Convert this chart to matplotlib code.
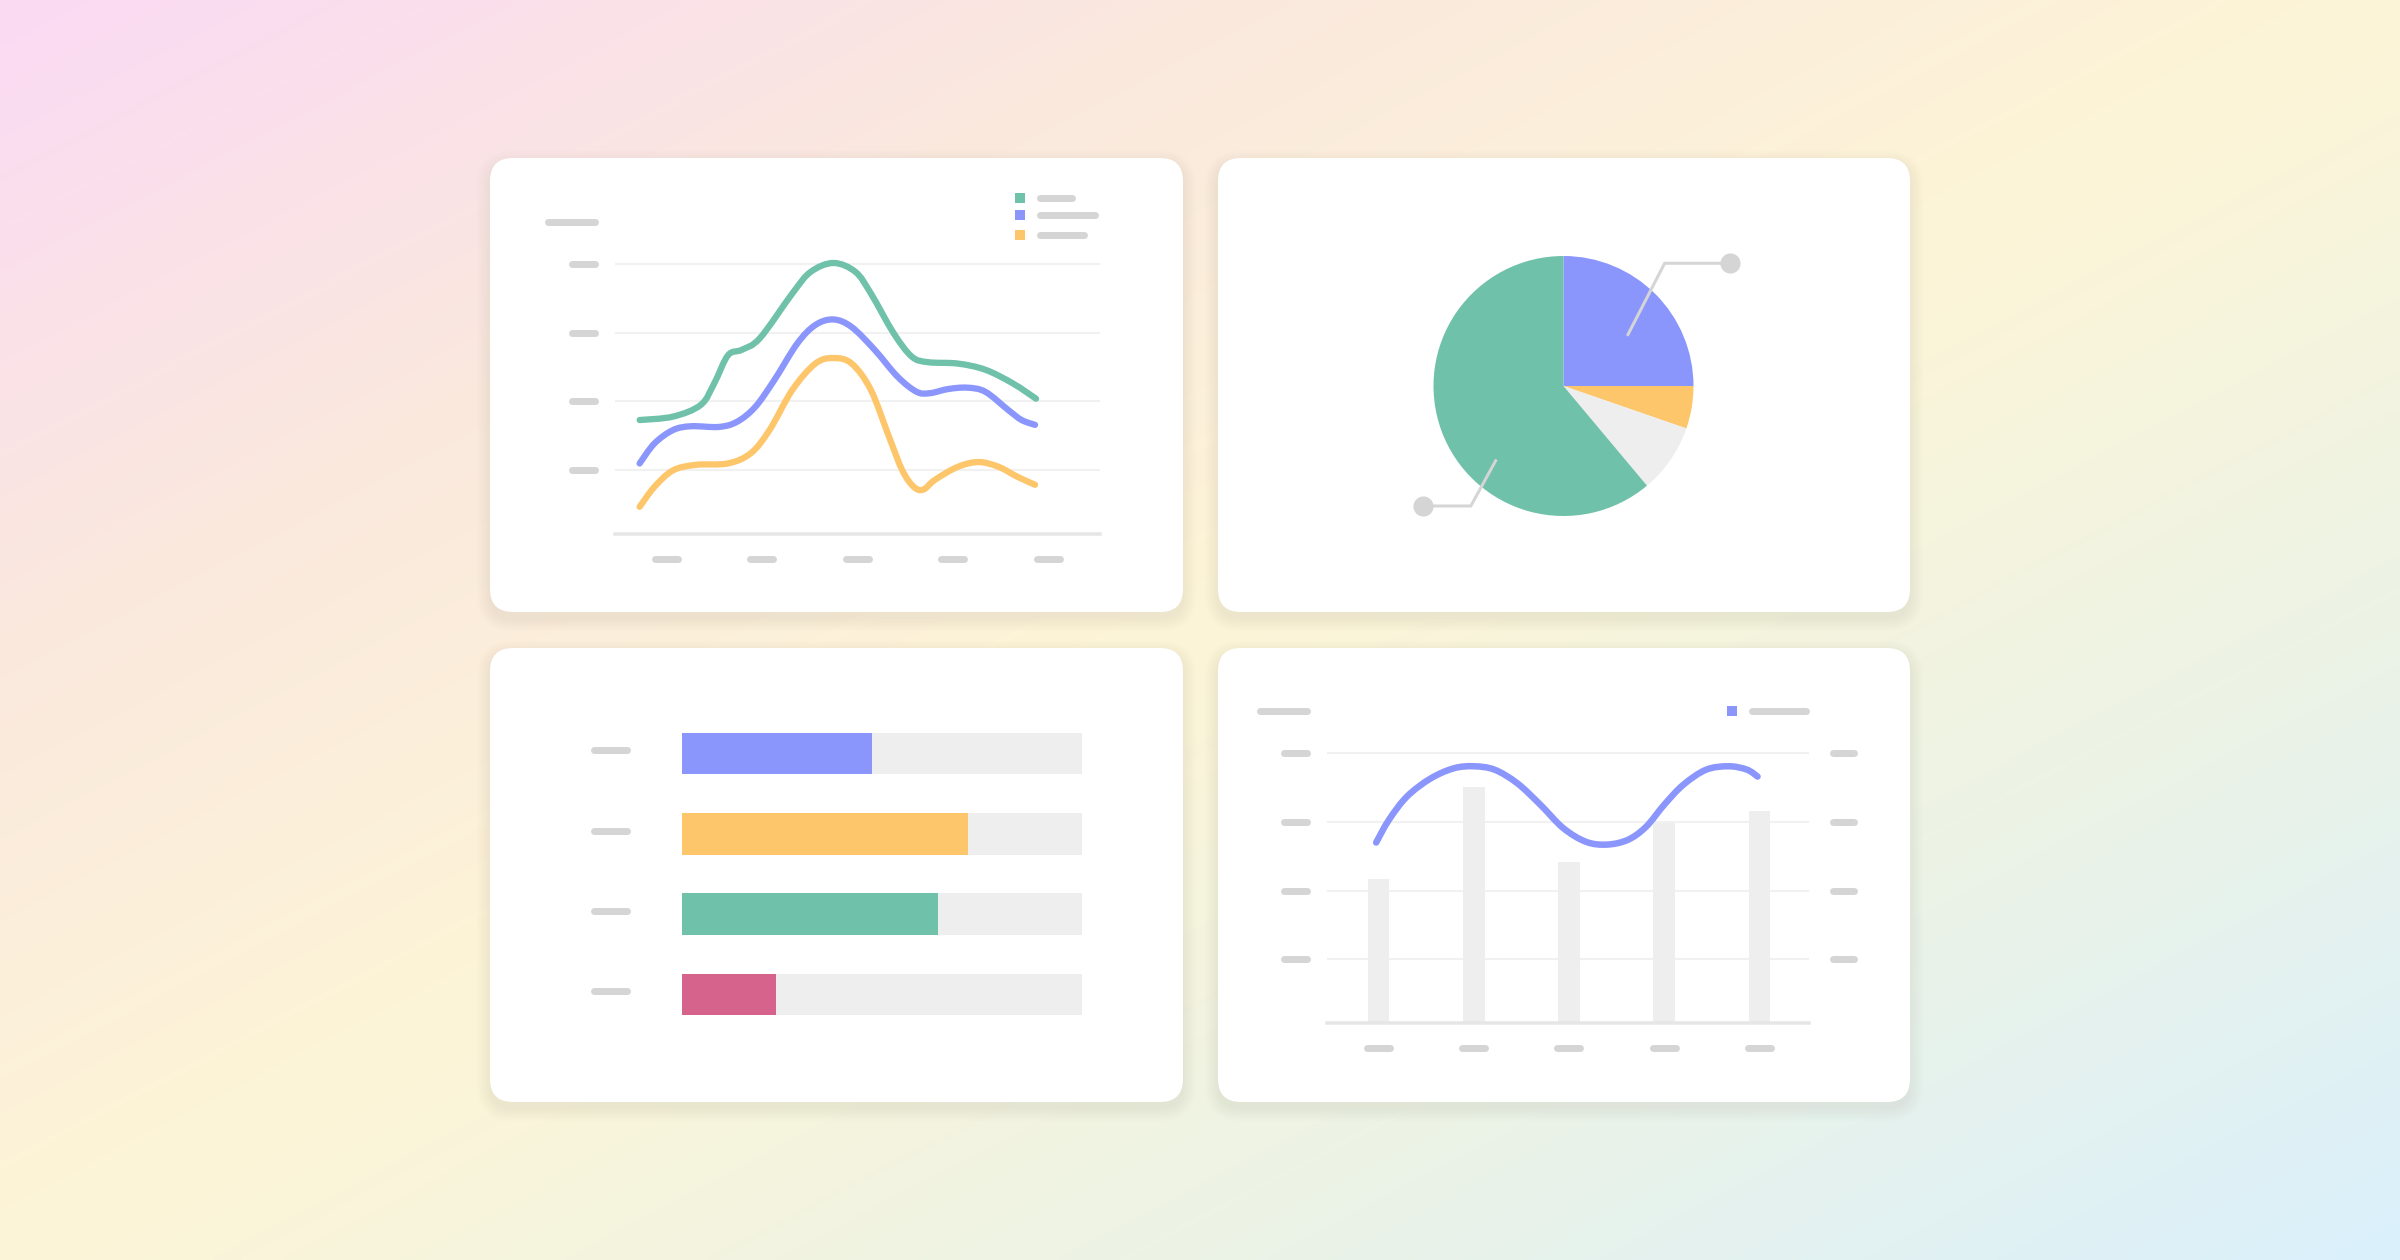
import numpy as np
import matplotlib
matplotlib.use("Agg")
import matplotlib.pyplot as plt
from matplotlib.patches import FancyBboxPatch, PathPatch
from matplotlib.path import Path

W, H = 2400, 1260

GREEN = "#70c1a9"
BLUE = "#8b96fd"
ORANGE = "#fec66b"
PINK = "#d6638b"
TRACK = "#eeeeee"
PILL = "#d5d5d5"
GRID = "#f1f1f1"
BASE = "#e6e6e6"

# --- top left: three smooth lines (x in tick units 1..5, y in grid units 1..4)
green_x = [0.72, 1.07, 1.36, 1.50, 1.645, 1.79, 1.98, 2.32, 2.51, 2.75, 2.98, 3.14, 3.38, 3.57, 3.74, 4.05, 4.34, 4.63, 4.87]
green_y = [1.73, 1.78, 1.95, 2.26, 2.67, 2.75, 2.92, 3.57, 3.88, 4.01, 3.88, 3.57, 2.99, 2.65, 2.57, 2.55, 2.46, 2.26, 2.04]

blue_x = [0.72, 0.875, 1.07, 1.26, 1.55, 1.74, 1.93, 2.13, 2.37, 2.56, 2.75, 2.94, 3.18, 3.42, 3.62, 3.76, 3.95, 4.15, 4.34, 4.58, 4.72, 4.86]
blue_y = [1.10, 1.39, 1.585, 1.64, 1.63, 1.705, 1.92, 2.31, 2.84, 3.11, 3.19, 3.08, 2.75, 2.36, 2.14, 2.12, 2.18, 2.20, 2.14, 1.875, 1.73, 1.66]

orange_x = [0.72, 0.875, 1.07, 1.31, 1.645, 1.885, 2.08, 2.32, 2.56, 2.75, 2.94, 3.14, 3.33, 3.47, 3.59, 3.69, 3.81, 4.05, 4.27, 4.48, 4.67, 4.86]
orange_y = [0.47, 0.76, 1.00, 1.08, 1.10, 1.25, 1.585, 2.17, 2.55, 2.63, 2.55, 2.17, 1.49, 1.00, 0.76, 0.72, 0.86, 1.05, 1.12, 1.05, 0.91, 0.79]

# --- top right: pie shares (percent)
pie_vals = [25.0, 5.3, 8.6, 61.1]
pie_cols = [BLUE, ORANGE, TRACK, GREEN]
# callout lines, in pie radius units
call1_x = [0.496, 0.778, 1.283]
call1_y = [0.396, 0.944, 0.944]
call2_x = [-0.522, -0.713, -1.077]
call2_y = [-0.575, -0.923, -0.923]

# --- bottom left: progress bars (share of track)
prog_vals = [0.475, 0.716, 0.640, 0.236]
prog_cols = [BLUE, ORANGE, GREEN, PINK]

# --- bottom right: columns + line
col_x = [1, 2, 3, 4, 5]
col_vals = [2.17, 3.51, 2.41, 2.99, 3.16]
wave_x = [0.976, 1.11, 1.30, 1.545, 1.79, 2.00, 2.22, 2.46, 2.70, 2.94, 3.18, 3.40, 3.62, 3.81, 4.00, 4.20, 4.44, 4.68, 4.87, 4.98]
wave_y = [2.70, 3.03, 3.37, 3.63, 3.78, 3.81, 3.76, 3.56, 3.25, 2.91, 2.71, 2.67, 2.74, 2.93, 3.25, 3.54, 3.76, 3.81, 3.76, 3.66]


fig = plt.figure(figsize=(W / 100, H / 100), dpi=100)

# background gradient + cards
bg = fig.add_axes([0, 0, 1, 1])
u, v = np.meshgrid(np.linspace(0, 1, 480), np.linspace(0, 1, 252))
t = (u + v) / 2
stops = [0, 0.25, 0.5, 0.75, 1.0]
scol = np.array([[250, 218, 244], [250, 232, 222], [253, 245, 215],
                 [236, 243, 230], [218, 240, 252]]) / 255
img = np.stack([np.interp(t, stops, scol[:, k]) for k in range(3)], axis=-1)
bg.imshow(img, extent=(0, W, H, 0), aspect="auto", interpolation="bilinear")
bg.set_xlim(0, W)
bg.set_ylim(H, 0)
bg.axis("off")

cards = [(490, 158, 693, 454), (1218, 158, 692, 454),
         (490, 648, 693, 454), (1218, 648, 692, 454)]
for cx, cy, cw, ch in cards:
    # soft drop shadow, a few stacked faint layers
    for k in range(7):
        s = 1 + 2 * k
        bg.add_patch(FancyBboxPatch((cx - s, cy - s + 6), cw + 2 * s, ch + 2 * s,
                                    boxstyle=f"round,pad=0,rounding_size={23 + s}",
                                    fc=(0.55, 0.55, 0.48), ec="none", alpha=0.012))
    bg.add_patch(FancyBboxPatch((cx, cy), cw, ch, boxstyle="round,pad=0,rounding_size=23",
                                fc="white", ec="none"))


def add_px_axes(left, top, right, bottom):
    ax = fig.add_axes([left / W, 1 - bottom / H, (right - left) / W, (bottom - top) / H])
    ax.set_facecolor("none")
    ax.set_xticks([])
    ax.set_yticks([])
    for sp in ax.spines.values():
        sp.set_visible(False)
    return ax


def pill(ax, x0, x1, y, h=7, color=PILL, frac=False):
    # round caps stick out h/2 px on each side, pull the ends in
    w_px = ax.get_position().width * W
    if frac:
        per_px = 1 / w_px
        tr = ax.get_yaxis_transform()
    else:
        lo, hi = ax.get_xlim()
        per_px = abs(hi - lo) / w_px
        tr = ax.transData
    d = h / 2 * per_px
    ax.plot([x0 + d, x1 - d], [y, y], color=color, lw=h * 0.72,
            solid_capstyle="round", transform=tr, clip_on=False)


def smooth_line(ax, xs, ys, color, lw, zorder=3):
    # catmull-rom through the read points, drawn as cubic bezier segments
    p = np.column_stack([xs, ys])
    ext = np.vstack([p[0], p, p[-1]])
    verts = [p[0]]
    codes = [Path.MOVETO]
    for i in range(1, len(ext) - 2):
        c1 = ext[i] + (ext[i + 1] - ext[i - 1]) / 6
        c2 = ext[i + 1] - (ext[i + 2] - ext[i]) / 6
        verts += [c1, c2, ext[i + 1]]
        codes += [Path.CURVE4] * 3
    ax.add_patch(PathPatch(Path(verts, codes), fill=False, ec=color, lw=lw,
                           capstyle="round", joinstyle="round", zorder=zorder))


def base_line(ax):
    ax.spines["bottom"].set_visible(True)
    ax.spines["bottom"].set_color(BASE)
    ax.spines["bottom"].set_linewidth(3.5 * 0.72)


# ---------- card 1
ax1 = add_px_axes(615, 243.7, 1100, 533.7)
ax1.set_xlim(0.462, 5.54)
ax1.set_ylim(0.08, 4.29)
ax1.set_autoscale_on(False)
base_line(ax1)
for g in [1, 2, 3, 4]:
    ax1.axhline(g, color=GRID, lw=1.5, zorder=0)
    pill(ax1, -0.0957, -0.035, g, frac=True)
pill(ax1, -0.146, -0.035, 4.61, frac=True)
for c in [1, 2, 3, 4, 5]:
    pill(ax1, c - 0.157, c + 0.157, -0.287)
for xs, ys, col in [(green_x, green_y, GREEN), (blue_x, blue_y, BLUE), (orange_x, orange_y, ORANGE)]:
    smooth_line(ax1, xs, ys, col, 6.3 * 0.72)
for ly, lend, col in [(4.96, 5.285, GREEN), (4.70, 5.52, BLUE), (4.42, 5.405, ORANGE)]:
    ax1.plot(4.70, ly, "s", ms=7.9, mew=0, color=col, clip_on=False)
    pill(ax1, 4.875, lend, ly)

# ---------- card 2
ax2 = add_px_axes(1433.5, 256, 1693.5, 516)
ax2.pie(pie_vals, colors=pie_cols, startangle=90, counterclock=False,
        wedgeprops=dict(linewidth=0))
ax2.set_xlim(-1, 1)
ax2.set_ylim(-1, 1)
for xs, ys in [(call1_x, call1_y), (call2_x, call2_y)]:
    ax2.plot(xs, ys, color=PILL, lw=3 * 0.72, clip_on=False, solid_joinstyle="miter")
    ax2.plot(xs[-1], ys[-1], "o", ms=14.5, mew=0, color=PILL, clip_on=False)

# ---------- card 3
ax3 = add_px_axes(682, 713.35, 1081.6, 1034.45)
ax3.set_xlim(0, 1)
ax3.set_ylim(3.5, -0.5)
ax3.set_autoscale_on(False)
rows = np.arange(len(prog_vals))
ax3.barh(rows, [1] * len(rows), height=0.517, color=TRACK, lw=0)
ax3.barh(rows, prog_vals, height=0.517, color=prog_cols, lw=0)
for r in rows:
    pill(ax3, -0.230, -0.130, r - 0.04, frac=True)

# ---------- card 4
ax4 = add_px_axes(1327, 733.3, 1809, 1022.7)
ax4.set_xlim(0.46, 5.52)
ax4.set_ylim(0.077, 4.29)
ax4.set_autoscale_on(False)
base_line(ax4)
for g in [1, 2, 3, 4]:
    ax4.axhline(g, color=GRID, lw=1.5, zorder=0)
    pill(ax4, -0.0975, -0.035, g, frac=True)
    pill(ax4, 1.042, 1.101, g, frac=True)
pill(ax4, -0.147, -0.035, 4.62, frac=True)
ax4.bar(col_x, col_vals, width=0.227, color=TRACK, lw=0, zorder=1)
smooth_line(ax4, wave_x, wave_y, BLUE, 6.5 * 0.72)
for c in col_x:
    pill(ax4, c - 0.157, c + 0.157, -0.29)
ax4.plot(4.71, 4.62, "s", ms=7.9, mew=0, color=BLUE, clip_on=False)
pill(ax4, 4.88, 5.53, 4.62)

fig.savefig("out.png", dpi=100)
